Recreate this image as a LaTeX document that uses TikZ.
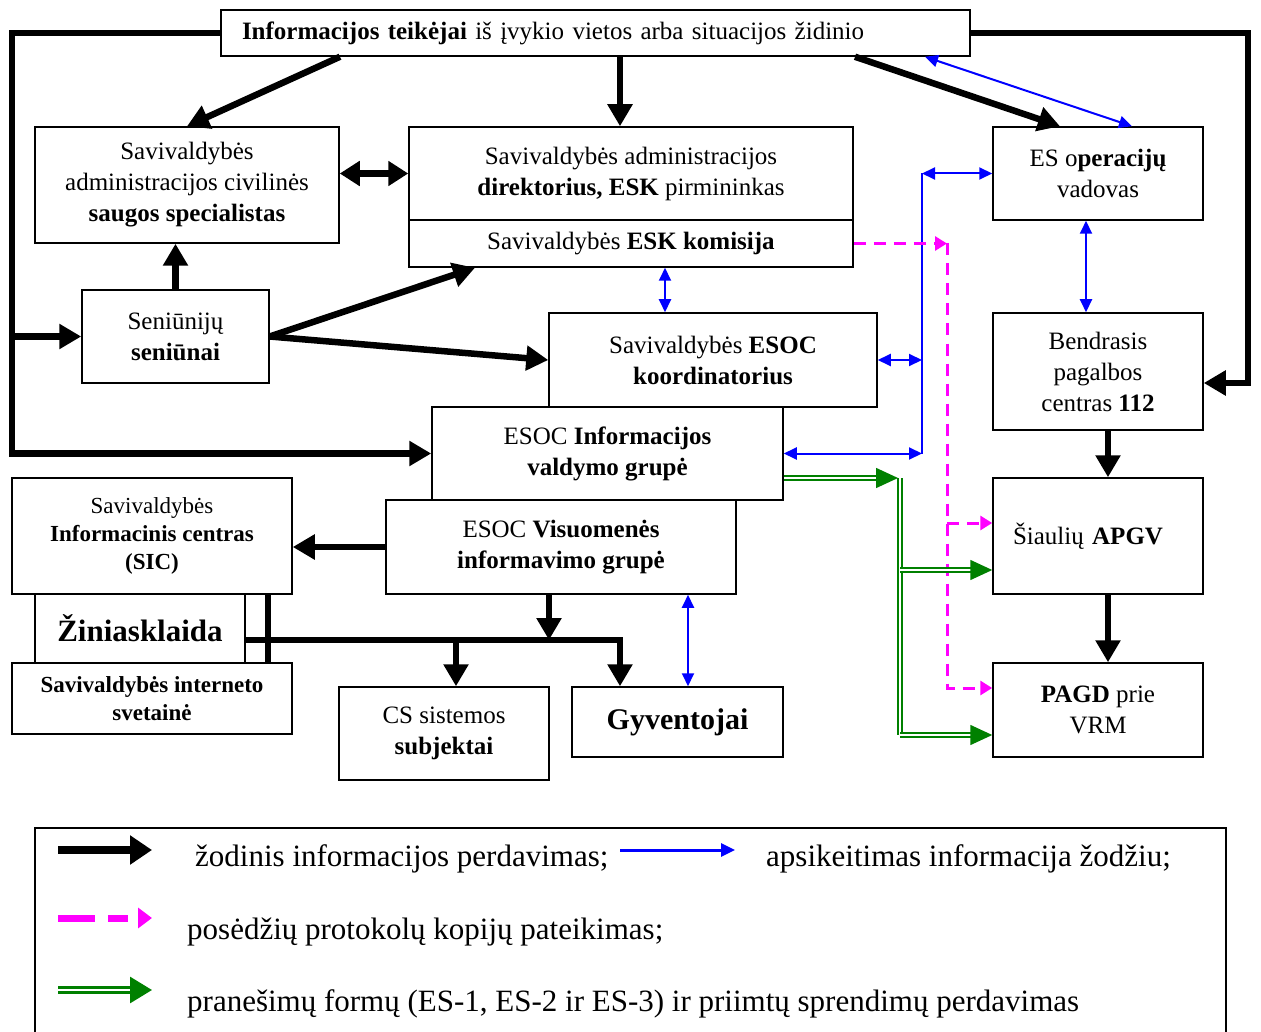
\documentclass[tikz,border=0pt]{standalone}
\usepackage{fontspec}
\setmainfont{Liberation Serif}
\usetikzlibrary{arrows.meta,calc}

\definecolor{formgreen}{RGB}{0,128,0}
\definecolor{talkblue}{RGB}{0,0,255}
\definecolor{protpink}{RGB}{255,0,255}

\begin{document}
\begin{tikzpicture}[x=1pt, y=-1pt,
    every node/.append style={font=\fontsize{25}{31}\selectfont, align=center, inner sep=0pt},
    box/.style={draw, line width=1.5pt},
    small/.style={font=\fontsize{23}{28}\selectfont},
    oral/.style={line width=6.5pt, -{Triangle[length=22pt,width=24pt]}},
    oralline/.style={line width=6.5pt},
    talk/.style={talkblue, line width=2pt, {Triangle[length=13pt,width=12pt]}-{Triangle[length=13pt,width=12pt]}},
    talkline/.style={talkblue, line width=2pt},
    protocol/.style={protpink, line width=3pt, dash pattern=on 12pt off 8pt, -{Triangle[length=12pt,width=14pt]}},
    forms/.style={formgreen, double=white, double distance=2.5pt, line width=1.5pt, -{Triangle[length=22pt,width=20pt]}},
    formsline/.style={formgreen, double=white, double distance=2.5pt, line width=1.5pt},
]

    \def\cw{210}        % width of the right-hand column of boxes

    \useasboundingbox (0,0) rectangle (1261,1032);

    % top: who gives the information
    \node[box, minimum width=749, minimum height=46, text width=707, inner xsep=21, align=left] (info) at (595.5,33)
        {\textbf{Informacijos teikėjai} iš įvykio vietos arba situacijos židinio};

    % municipality boxes
    \node[box, minimum width=304, minimum height=116] (civ) at (187,185)
        {Savivaldybės\\ administracijos civilinės\\ \textbf{saugos specialistas}};
    \node[box, minimum width=444, minimum height=93] (dir) at (631,173.5)
        {Savivaldybės administracijos\\ \textbf{direktorius, ESK} pirmininkas};
    \node[box, minimum width=444, minimum height=47] (esk) at (631,243.5)
        {Savivaldybės \textbf{ESK komisija}};
    \node[box, minimum width=187, minimum height=93] (sen) at (175.5,336.5)
        {Seniūnijų\\ \textbf{seniūnai}};
    \node[box, minimum width=328, minimum height=94] (coord) at (713,360)
        {Savivaldybės \textbf{ESOC}\\ \textbf{koordinatorius}};
    \node[box, minimum width=351, minimum height=93] (ivg) at (607.5,453.5)
        {ESOC \textbf{Informacijos}\\ \textbf{valdymo grupė}};
    \node[box, minimum width=350, minimum height=94] (vig) at (561,547)
        {ESOC \textbf{Visuomenės}\\ \textbf{informavimo grupė}};

    % public information
    \node[box, small, minimum width=280, minimum height=116] (sic) at (152,536)
        {Savivaldybės\\ \textbf{Informacinis centras}\\ \textbf{(SIC)}};
    \node[box, minimum width=210, minimum height=69, font=\fontsize{31}{36}\selectfont\bfseries] (zin) at (140,628.5)
        {Žiniasklaida};
    \node[box, small, minimum width=280, minimum height=71] (web) at (152,698.5)
        {\textbf{Savivaldybės interneto}\\ \textbf{svetainė}};
    \node[box, minimum width=210, minimum height=93] (cs) at (444,733.5)
        {CS sistemos\\ \textbf{subjektai}};
    \node[box, minimum width=211, minimum height=70, font=\fontsize{30}{36}\selectfont\bfseries] (gyv) at (677.5,722)
        {Gyventojai};

    % right-hand column
    \node[box, minimum width=\cw, minimum height=93] (esop) at (1098,173.5)
        {ES o\textbf{peracijų}\\ vadovas};
    \node[box, minimum width=\cw, minimum height=117] (bpc) at (1098,371.5)
        {Bendrasis\\ pagalbos\\ centras \textbf{112}};
    \node[box, minimum width=\cw, minimum height=116, text width=170, inner xsep=20, align=left] (apgv) at (1098,536)
        {Šiaulių \textbf{APGV}};
    \node[box, minimum width=\cw, minimum height=94] (pagd) at (1098,710)
        {\textbf{PAGD} prie\\ VRM};

    % trunks and entry points
    \coordinate (lft) at (12,0);
    \coordinate (rgt) at (1248,0);
    \coordinate (trk) at (922,0);       % blue trunk
    \coordinate (pk) at (947,0);        % magenta trunk
    \coordinate (fg) at (900,0);        % green trunk
    \coordinate (bus) at (456,640);
    \coordinate (busR) at (620,640);
    \coordinate (bpcIn) at ($(bpc.east)+(0,11.5)$);
    \coordinate (apgvP) at ($(apgv.west)+(0,-13)$);
    \coordinate (pagdP) at ($(pagd.west)+(0,-22)$);
    \coordinate (apgvG) at ($(apgv.west)+(0,34)$);
    \coordinate (pagdG) at ($(pagd.west)+(0,25)$);
    \coordinate (ivgG) at ($(ivg.east)+(0,24.5)$);

    % verbal transfer of information
    \draw[oral] (info.south -| 340,0) -- (civ.north);
    \draw[oral] (info.south -| 620,0) -- (dir.north -| 620,0);
    \draw[oral] (info.south -| 855,0) -- (esop.north -| 1060,0);
    \draw[oral] (info.west) -- (info.west -| lft) -- (lft |- ivg.west) -- (ivg.west);
    \draw[oral] (lft |- sen.west) -- (sen.west);
    \draw[oral] (info.east) -- (info.east -| rgt) -- (rgt |- bpcIn) -- (bpcIn);
    \draw[line width=6.5pt, {Triangle[length=20pt,width=24pt]}-{Triangle[length=20pt,width=24pt]}]
        (civ.east |- dir.west) -- (dir.west);
    \draw[oral] (sen.north) -- (sen.north |- civ.south);
    \draw[oral] (sen.east) -- (esk.south -| 475,0);
    \draw[oral] (sen.east) -- (coord.west);
    \draw[oral] (bpc.south -| 1108,0) -- (apgv.north -| 1108,0);
    \draw[oral] (apgv.south -| 1108,0) -- (pagd.north -| 1108,0);
    \draw[oral] (vig.west) -- (vig.west -| sic.east);
    \draw[oral] (vig.south -| 549,0) -- (bus -| 549,0);
    \draw[oral] (zin.east |- bus) -- (busR) -- (busR |- gyv.north);
    \draw[oral] (bus) -- (bus |- cs.north);
    \draw[oralline] (sic.south -| 268,0) -- (web.north -| 268,0);

    % exchange of information by word
    \draw[talk] (info.south -| 925,0) -- (esop.north -| 1132,0);
    \draw[talk] (esop.south -| 1086,0) -- (bpc.north -| 1086,0);
    \draw[talk] (esk.south -| 665,0) -- (coord.north -| 665,0);
    \draw[talk] (vig.south -| 688,0) -- (gyv.north -| 688,0);
    \draw[talkline] (esop.west -| trk) -- (trk |- ivg.east);
    \draw[talk] (esop.west -| trk) -- (esop.west);
    \draw[talk] (coord.east) -- (coord.east -| trk);
    \draw[talk] (ivg.east) -- (ivg.east -| trk);

    % copies of meeting minutes
    \draw[protocol] (esk.east) -- (esk.east -| pk);
    \draw[protocol] (esk.east -| pk) -- (pk |- pagdP) -- (pagdP);
    \draw[protocol] (pk |- apgvP) -- (apgvP);

    % report forms and decisions
    \draw[forms] (ivgG) -- (ivgG -| 898,0);
    \draw[formsline] (ivgG -| fg) -- (fg |- pagdG);
    \draw[forms] (fg |- apgvG) -- (apgvG);
    \draw[forms] (fg |- pagdG) -- (pagdG);

    % legend
    \draw[line width=1.5pt] (35,828) rectangle (1226,1045);
    \begin{scope}[every node/.append style={font=\fontsize{31}{36}\selectfont, anchor=base west}]
        \draw[line width=8pt, -{Triangle[length=22pt,width=28pt]}] (58,850) -- (152,850);
        \node (lgoral) at (195,866) {žodinis informacijos perdavimas;};
        \draw[talkblue, line width=3pt, -{Triangle[length=14pt,width=13pt]}] (620,850) -- (735,850);
        \node (lgtalk) at (766,866) {apsikeitimas informacija žodžiu;};
        \draw[protpink, line width=7pt, dash pattern=on 37pt off 13pt on 20pt off 20pt, -{Triangle[length=14pt,width=20pt]}] (58,918) -- (152,918);
        \node (lgprot) at (187,939) {posėdžių protokolų kopijų pateikimas;};
        \draw[formgreen, double=white, double distance=2.5pt, line width=3pt, -{Triangle[length=22pt,width=26pt]}] (58,990) -- (152,990);
        \node (lgform) at (187,1011) {pranešimų formų (ES-1, ES-2 ir ES-3) ir priimtų sprendimų perdavimas};
    \end{scope}

\end{tikzpicture}
\end{document}
